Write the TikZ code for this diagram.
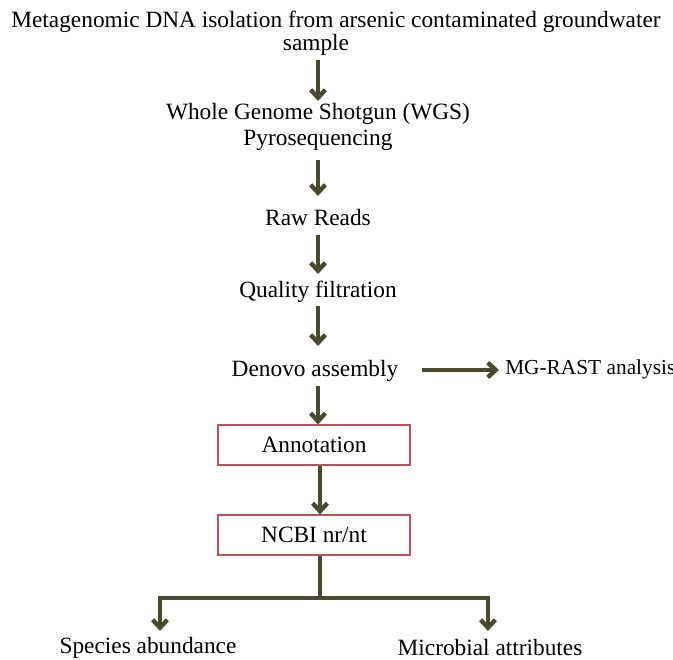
\documentclass[tikz,border=0pt]{standalone}
\usepackage{fontspec}
\setmainfont{Liberation Serif}
\usetikzlibrary{arrows.meta,positioning}
\definecolor{arrowolive}{HTML}{4B4A2F}
\definecolor{boxred}{HTML}{C0505A}

\begin{document}
\begin{tikzpicture}[x=0.75pt,y=-0.75pt]
                \tikzstyle{every node}+=[inner sep=0pt,font=\fontsize{17.5}{19}\selectfont,align=center]
                \tikzstyle{flow}=[arrowolive,line width=3.3pt,-{Straight Barb[length=6pt,width=11pt,line width=3.3pt]}]
                \tikzstyle{stage}=[draw=boxred,line width=0.8pt,minimum width=144pt,minimum height=30pt]
                \useasboundingbox (0,0) rectangle (673,659);
                \node (dna) at (336,22) {Metagenomic DNA isolation from arsenic contaminated groundwater};
                \node (smp) at (316,45) {sample};
                \node (wgs) at (318,127) {Whole Genome Shotgun (WGS)\\Pyrosequencing};
                \node (raw) at (318,218) {Raw Reads};
                \node (qf) at (318,292) {Quality filtration};
                \node (den) at (315,371) {Denovo assembly};
                \node[anchor=west,font=\fontsize{16}{19}\selectfont] (mg) at (505,369) {MG-RAST analysis};
                \node[stage] (ann) at (314,445) {Annotation};
                \node[stage] (ncbi) at (314,535) {NCBI nr/nt};
                \node (sp) at (148,648) {Species abundance};
                \node (mic) at (490,648) {Microbial attributes};
                \coordinate (split) at (320,598);
                \coordinate (left) at (160,598);
                \coordinate (right) at (488,598);
                \draw [flow] (318,60) -- (318,101);
                \draw [flow] (318,160) -- (318,196);
                \draw [flow] (318,235) -- (318,274);
                \draw [flow] (318,306) -- (318,346);
                \draw [flow] (422,370) -- (499,370);
                \draw [flow] (318,386) -- (ann.north -| 318,0);
                \draw [flow] (ann.south -| 320,0) -- (ncbi.north -| 320,0);
                \draw [arrowolive,line width=3.3pt] (ncbi.south -| 320,0) -- (split);
                \draw [arrowolive,line width=3.3pt,line cap=rect] (left) -- (right);
                \draw [flow] (left) -- (160,631);
                \draw [flow] (right) -- (488,631);
              \end{tikzpicture}
\end{document}
